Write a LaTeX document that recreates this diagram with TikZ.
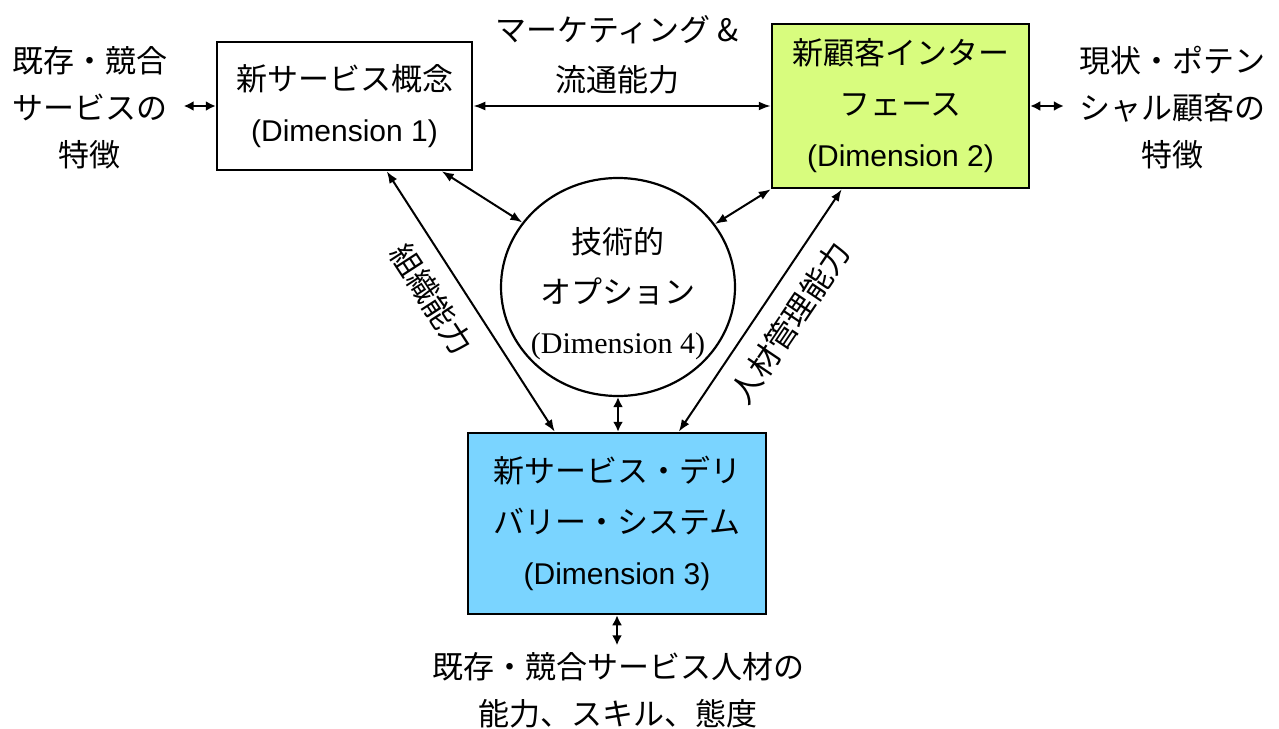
\documentclass[tikz,border=0pt]{standalone}
\usepackage{fontspec}
\setmainfont{Liberation Sans}
\newfontfamily\jp{Noto Sans CJK JP}
\newfontfamily\serifl{Liberation Serif}
\usetikzlibrary{arrows.meta,shapes.geometric,calc}
\definecolor{boxgreen}{RGB}{216,252,126}
\definecolor{boxblue}{RGB}{122,212,255}
\begin{document}
\begin{tikzpicture}[x=1pt,y=-1pt,
  every node/.style={inner sep=0pt},
  jtext/.style={font=\fontsize{31}{50}\selectfont\jp, align=center},
  otext/.style={font=\fontsize{31}{47}\selectfont\jp, align=center},
  dbox/.style={draw, line width=2.5pt, inner sep=0pt, align=center, font=\fontsize{30}{51}\selectfont},
  conn/.style={line width=2pt, {Latex[length=12pt,width=9pt]}-{Latex[length=12pt,width=9pt]}},
  sconn/.style={line width=2.4pt, {Latex[length=10pt,width=10pt]}-{Latex[length=10pt,width=10pt]}}
]
\useasboundingbox (0,0) rectangle (1279,728);
% boxes
\node[dbox, minimum width=255pt, minimum height=128pt] (b1) at (344.5,106)
  {{\fontsize{31}{51}\selectfont\jp 新サービス概念}\\(Dimension 1)};
\node[dbox, fill=boxgreen, minimum width=257pt, minimum height=164pt] (b2) at (900.5,106)
  {{\fontsize{31}{51}\selectfont\jp 新顧客インター}\\{\fontsize{31}{51}\selectfont\jp フェース}\\(Dimension 2)};
\node[dbox, fill=boxblue, minimum width=298pt, minimum height=181pt] (b3) at (617,523.5)
  {{\fontsize{31}{51}\selectfont\jp 新サービス・デリ}\\{\fontsize{31}{51}\selectfont\jp バリー・システム}\\(Dimension 3)};
\node[ellipse, draw, line width=2.2pt, minimum width=234pt, minimum height=218pt] (c) at (618,287) {};
\node[jtext] (ct) at (618,294) {技術的\\オプション\\{\fontsize{30}{50}\selectfont\serifl (Dimension 4)}};
% outer texts
\node[otext] (L) at (90,108) {既存・競合\\サービスの\\特徴};
\node[otext] (R) at (1172,108) {現状・ポテン\\シャル顧客の\\特徴};
\node[jtext] (T) at (617,55) {マーケティング \&\\流通能力};
\node[otext] (B) at (618,690) {既存・競合サービス人材の\\能力、スキル、態度};
% connectors
\draw[conn] (b1.east) -- (b2.west);
\draw[sconn] ($(L.east |- b1.west)+(16,0)$) -- (b1.west);
\draw[sconn] (b2.east) -- ($(R.west |- b2.east)+(-15,0)$);
\draw[conn] ([xshift=171pt]b1.south west) -- node[pos=0.47, shift={(-34,5)}, rotate=-57, jtext] (lab1) {組織能力} ([xshift=88pt]b3.north west);
\draw[conn] ([xshift=226pt]b1.south west) -- (c.146);
\draw[conn] (b2.south west) -- (c.33);
\draw[conn] ([xshift=71pt]b2.south west) -- node[pos=0.55, shift={(38,0)}, rotate=56, jtext] (lab2) {人材管理能力} ([xshift=212pt]b3.north west);
\draw[sconn] (c.south) -- (c.south |- b3.north);
\draw[sconn] (b3.south) -- ($(b3.south)+(0,30)$) coordinate (bend);
\end{tikzpicture}
\end{document}
